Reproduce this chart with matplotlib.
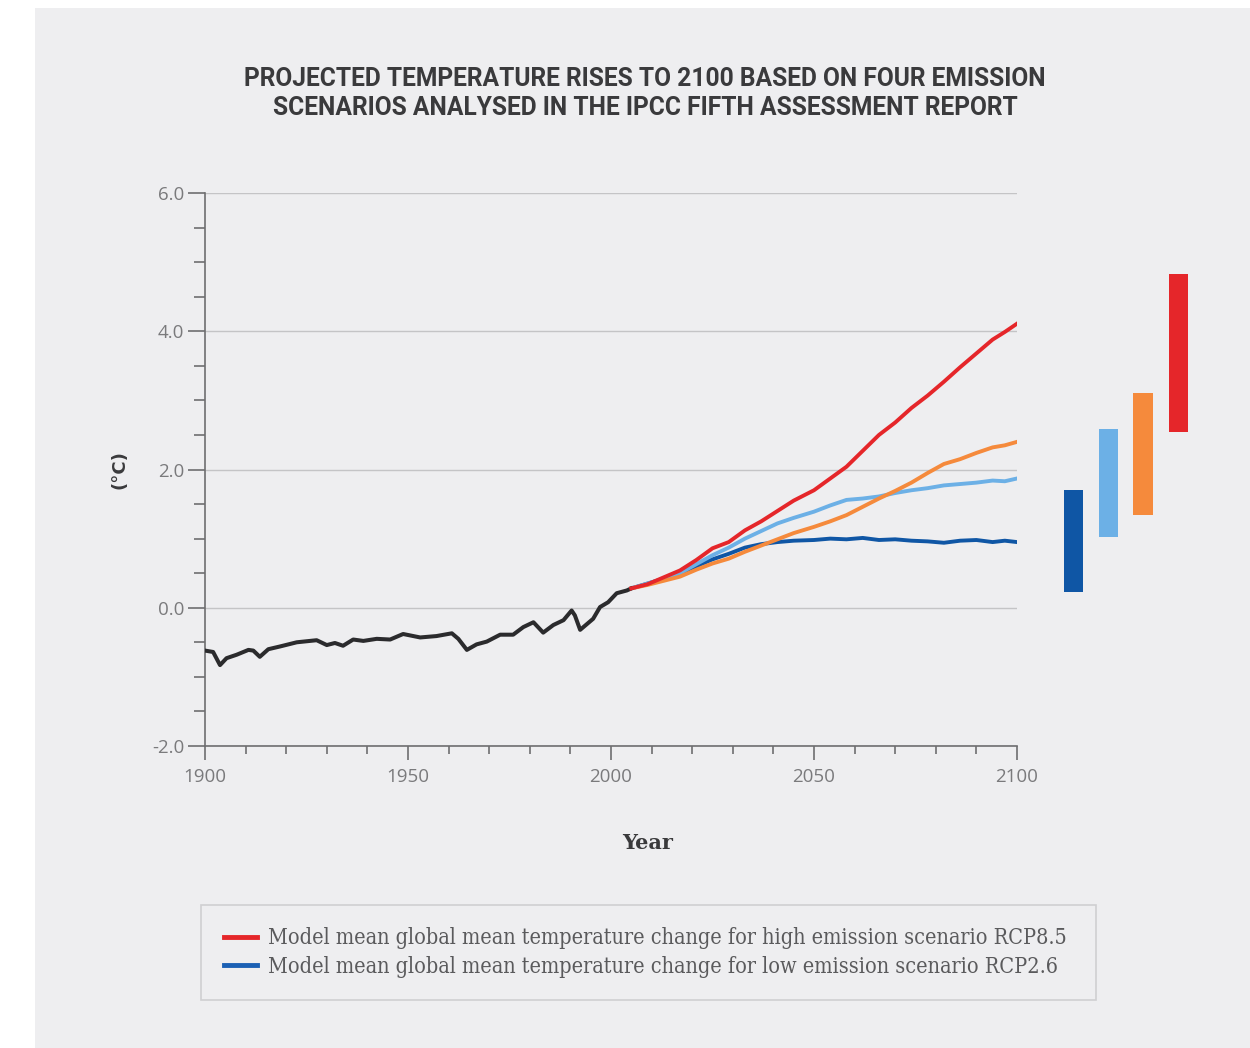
import matplotlib.pyplot as plt
import numpy as np
from matplotlib.patches import Rectangle
from matplotlib.lines import Line2D

# observed record, 1900-2005
histYear = [1900, 1902, 1903.7, 1905.3, 1907.8, 1910.7, 1911.9, 1913.5, 1915.6, 1918.5,
            1922.6, 1927.5, 1930, 1932, 1934, 1936.5, 1939, 1942.3, 1945.6, 1948.8,
            1953, 1957, 1960.8, 1962.4, 1964.5, 1966.9, 1969.4, 1972.7, 1975.9, 1978.4,
            1980.9, 1983.3, 1985.8, 1988.3, 1990.3, 1991.1, 1992.4, 1995.6, 1997.3, 1999.3,
            2001.4, 2003.9, 2005]
histTemp = [-0.62, -0.64, -0.83, -0.73, -0.68, -0.61, -0.62, -0.71, -0.60, -0.56,
            -0.50, -0.47, -0.54, -0.51, -0.55, -0.46, -0.48, -0.45, -0.46, -0.38,
            -0.43, -0.41, -0.37, -0.45, -0.61, -0.53, -0.49, -0.39, -0.39, -0.28,
            -0.21, -0.36, -0.25, -0.18, -0.04, -0.11, -0.32, -0.16, 0.01, 0.08,
            0.21, 0.25, 0.28]

# model means per scenario
projYear = [2005, 2009, 2013, 2017, 2021, 2025, 2029, 2033, 2037, 2041, 2045, 2050,
            2054, 2058, 2062, 2066, 2070, 2074, 2078, 2082, 2086, 2090, 2094, 2097, 2100]
rcp85 = [0.28, 0.34, 0.44, 0.54, 0.69, 0.86, 0.95, 1.12, 1.25, 1.40, 1.55, 1.70,
         1.87, 2.04, 2.27, 2.50, 2.68, 2.89, 3.07, 3.27, 3.48, 3.68, 3.88, 3.99, 4.11]
rcp60 = [0.28, 0.33, 0.39, 0.45, 0.55, 0.64, 0.71, 0.81, 0.90, 0.99, 1.08, 1.17,
         1.25, 1.34, 1.46, 1.58, 1.69, 1.81, 1.95, 2.08, 2.15, 2.24, 2.32, 2.35, 2.40]
rcp45 = [0.28, 0.35, 0.42, 0.50, 0.63, 0.76, 0.87, 1.00, 1.11, 1.22, 1.30, 1.39,
         1.48, 1.56, 1.58, 1.61, 1.66, 1.70, 1.73, 1.77, 1.79, 1.81, 1.84, 1.83, 1.87]
rcp26 = [0.28, 0.35, 0.42, 0.50, 0.60, 0.70, 0.78, 0.87, 0.92, 0.95, 0.97, 0.98,
         1.00, 0.99, 1.01, 0.98, 0.99, 0.97, 0.96, 0.94, 0.97, 0.98, 0.95, 0.97, 0.95]

# likely ranges at 2081-2100
rangeLow  = [0.23, 1.03, 1.34, 2.54]
rangeHigh = [1.70, 2.59, 3.11, 4.83]

cBlack  = '#2b2b2d'
cRed    = '#e5262a'
cOrange = '#f58a3c'
cLight  = '#6cb0e6'
cDark   = '#0f56a5'
rangeColors = [cDark, cLight, cOrange, cRed]

fig = plt.figure(figsize=(12.5, 10.48), dpi=100)
fig.patch.set_facecolor('white')
fig.patches.append(Rectangle((0.028, 0), 0.972, 0.9924, transform=fig.transFigure,
                             facecolor='#eeeef0', edgecolor='none', zorder=-10))

ax = fig.add_axes([0.164, 0.2882, 0.6496, 0.5276])
ax.set_facecolor('none')

ax.plot(histYear, histTemp, color=cBlack, lw=2.9, zorder=5, solid_joinstyle='round')
ax.plot(projYear, rcp26, color=cDark, lw=2.8, zorder=4)
ax.plot(projYear, rcp45, color=cLight, lw=2.8, zorder=4)
ax.plot(projYear, rcp60, color=cOrange, lw=2.8, zorder=4)
ax.plot(projYear, rcp85, color=cRed, lw=2.8, zorder=5)

# range bars sit outside the plot to the right
barX = [2113.9, 2122.5, 2131.0, 2139.7]
ax.bar(barX, np.array(rangeHigh) - np.array(rangeLow), bottom=rangeLow, width=4.75,
       color=rangeColors, clip_on=False, zorder=3)

ax.set_xlim(1900, 2100)
ax.set_ylim(-2.0, 6.0)
ax.set_xticks([1900, 1950, 2000, 2050, 2100])
ax.set_xticks(np.arange(1900, 2101, 10), minor=True)
ax.set_yticks([-2.0, 0.0, 2.0, 4.0, 6.0])
ax.set_yticks(np.arange(-2.0, 6.01, 0.5), minor=True)
ax.set_yticklabels(['-2.0', '0.0', '2.0', '4.0', '6.0'])

ax.grid(axis='y', which='major', color='#c4c4c6', lw=1)
ax.set_axisbelow(True)

for s in ['top', 'right']:
    ax.spines[s].set_visible(False)
for s in ['left', 'bottom']:
    ax.spines[s].set_color('#6e6e70')
    ax.spines[s].set_linewidth(1.2)

ax.tick_params(axis='both', which='both', color='#6e6e70', width=1.2, direction='out',
               labelcolor='#7a7a7c', labelsize=13.5)
ax.tick_params(axis='y', which='major', length=12, pad=3)
ax.tick_params(axis='y', which='minor', length=8)
ax.tick_params(axis='x', which='major', length=10, pad=6)
ax.tick_params(axis='x', which='minor', length=6)
for lab in ax.get_xticklabels() + ax.get_yticklabels():
    lab.set_family('Open Sans')

ax.set_xlabel('Year', family='DejaVu Serif', fontweight='bold', fontsize=15,
              color='#3a3a3c')
ax.xaxis.set_label_coords(0.5456, -0.157)
ax.set_ylabel('(°C)', fontweight='bold', fontsize=13, color='#3a3a3c', labelpad=17)

fig.text(0.516, 0.911, 'PROJECTED TEMPERATURE RISES TO 2100 BASED ON FOUR EMISSION\n'
         'SCENARIOS ANALYSED IN THE IPCC FIFTH ASSESSMENT REPORT',
         ha='center', va='center', family='Roboto',
         fontweight='bold', fontsize=17.7, color='#3a3a3c', linespacing=1.25)

handles = [Line2D([], [], color=cRed, lw=3.5), Line2D([], [], color='#1b60b4', lw=3.5)]
labels = ['Model mean global mean temperature change for high emission scenario RCP8.5',
          'Model mean global mean temperature change for low emission scenario RCP2.6']
leg = fig.legend(handles, labels, loc='center', bbox_to_anchor=(0.1608, 0.0458, 0.716, 0.0906),
                 mode='expand', frameon=True, fancybox=False, handlelength=1.55,
                 handletextpad=0.5, borderpad=1.05, labelspacing=0.3, borderaxespad=0,
                 prop={'family': 'DejaVu Serif', 'stretch': 'condensed', 'size': 15.5})
leg.get_frame().set_edgecolor('#c8c8ca')
leg.get_frame().set_facecolor('#efeff1')
leg.get_frame().set_linewidth(1.2)
for t in leg.get_texts():
    t.set_color('#5a5a5c')

fig.savefig('out.png', dpi=100, facecolor=fig.get_facecolor())
